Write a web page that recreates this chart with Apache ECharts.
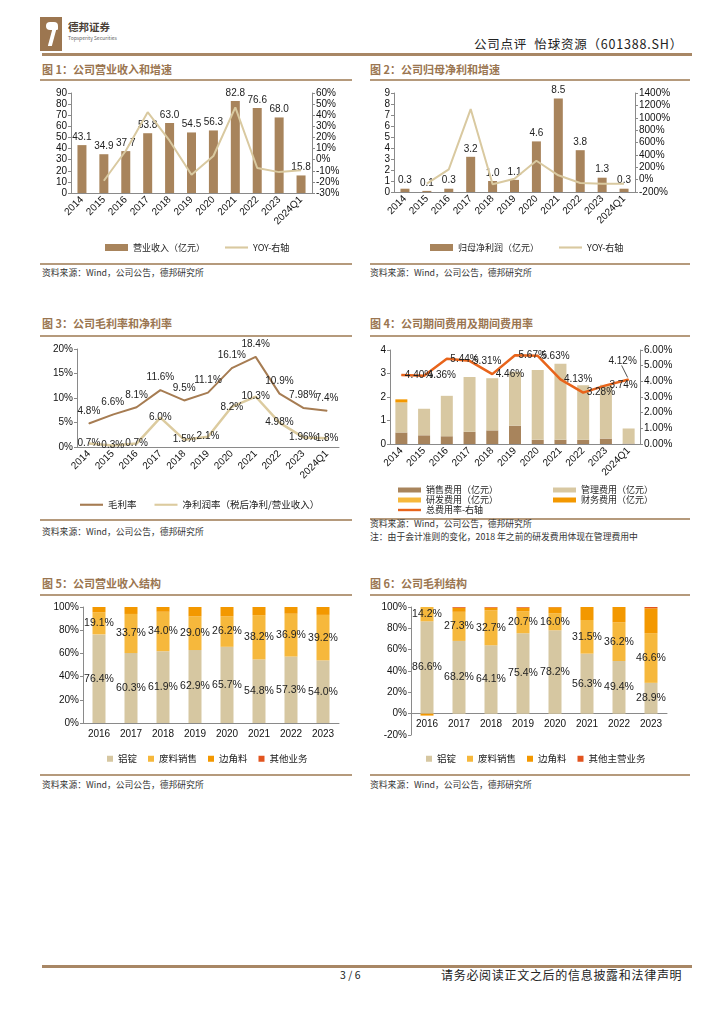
<!DOCTYPE html>
<html><head><meta charset="utf-8">
<script src="https://cdn.jsdelivr.net/npm/echarts@6/dist/echarts.min.js"></script>
<style>
body{margin:0;background:#fff;width:724px;height:1024px;position:relative;overflow:hidden;font-family:'Noto Sans CJK SC','Liberation Sans',sans-serif;color:#222;}
.t{position:absolute;white-space:nowrap;line-height:14px;}
.title{font-size:11px;font-weight:bold;color:#9a7550;}
.rule{position:absolute;height:1.5px;background:#b59a7c;}
.src{font-size:8.8px;color:#333;}
.chart{position:absolute;}
</style></head><body>
<!-- header -->
<div style="position:absolute;left:40px;top:17px;width:22px;height:34px;background:#9c7650;"></div>
<div style="position:absolute;left:46px;top:22px;width:12px;height:8px;background:#fff;border-radius:6px 6px 2px 6px;"></div>
<div style="position:absolute;left:50px;top:30px;width:4px;height:16px;background:#fff;transform:skewX(-15deg);"></div>
<div class="t" style="left:68px;top:20px;font-size:10.5px;font-weight:bold;color:#4a3f36;">德邦证券</div>
<div class="t" style="left:68px;top:31px;font-size:5px;color:#666;">Topsperity Securities</div>
<div class="t" style="right:41px;top:37px;font-size:12.5px;color:#222;letter-spacing:0.8px;">公司点评&nbsp;&nbsp;怡球资源（601388.SH）</div>
<div style="position:absolute;left:42px;top:53px;width:650px;height:2.5px;background:#a88765;"></div>

<!-- titles -->
<div class="t title" style="left:42px;top:62px;">图 1：公司营业收入和增速</div>
<div class="t title" style="left:370px;top:62px;">图 2：公司归母净利和增速</div>
<div class="rule" style="left:40px;top:79px;width:312px;"></div>
<div class="rule" style="left:370px;top:79px;width:320px;"></div>
<div class="rule" style="left:40px;top:263px;width:312px;"></div>
<div class="rule" style="left:370px;top:263px;width:320px;"></div>
<div class="t src" style="left:42px;top:266px;">资料来源：Wind，公司公告，德邦研究所</div>
<div class="t src" style="left:370px;top:266px;">资料来源：Wind，公司公告，德邦研究所</div>

<div class="t title" style="left:42px;top:316px;">图 3：公司毛利率和净利率</div>
<div class="t title" style="left:370px;top:316px;">图 4：公司期间费用及期间费用率</div>
<div class="rule" style="left:40px;top:335px;width:312px;"></div>
<div class="rule" style="left:370px;top:335px;width:320px;"></div>
<div class="rule" style="left:40px;top:519px;width:312px;"></div>
<div class="rule" style="left:370px;top:518px;width:320px;"></div>
<div class="t src" style="left:42px;top:525px;">资料来源：Wind，公司公告，德邦研究所</div>
<div class="t src" style="left:370px;top:517px;">资料来源：Wind，公司公告，德邦研究所</div>
<div class="t src" style="left:370px;top:530px;">注：由于会计准则的变化，2018 年之前的研发费用体现在管理费用中</div>

<div class="t title" style="left:42px;top:576px;">图 5：公司营业收入结构</div>
<div class="t title" style="left:370px;top:576px;">图 6：公司毛利结构</div>
<div class="rule" style="left:40px;top:594px;width:312px;"></div>
<div class="rule" style="left:370px;top:594px;width:320px;"></div>
<div class="rule" style="left:40px;top:774px;width:312px;"></div>
<div class="rule" style="left:370px;top:774px;width:320px;"></div>
<div class="t src" style="left:42px;top:778px;">资料来源：Wind，公司公告，德邦研究所</div>
<div class="t src" style="left:370px;top:778px;">资料来源：Wind，公司公告，德邦研究所</div>

<!-- footer -->
<div style="position:absolute;left:42px;top:965px;width:650px;height:2.5px;background:#a88765;"></div>
<div class="t" style="left:340px;top:968px;font-size:10.5px;">3 / 6</div>
<div class="t" style="left:441px;top:968px;font-size:12px;letter-spacing:0.7px;">请务必阅读正文之后的信息披露和法律声明</div>

<div id="c1" class="chart" style="left:40px;top:84px;width:318px;height:174px;"></div>
<div id="c2" class="chart" style="left:362px;top:84px;width:330px;height:174px;"></div>
<div id="c3" class="chart" style="left:40px;top:336px;width:318px;height:178px;"></div>
<div id="c4" class="chart" style="left:362px;top:336px;width:330px;height:200px;"></div>
<div id="c5" class="chart" style="left:40px;top:596px;width:318px;height:174px;"></div>
<div id="c6" class="chart" style="left:362px;top:596px;width:330px;height:174px;"></div>

<script>
// ---------- data ----------
const years11 = ['2014','2015','2016','2017','2018','2019','2020','2021','2022','2023','2024Q1'];
const years8 = ['2016','2017','2018','2019','2020','2021','2022','2023'];

const revenue = [43.1,34.9,37.7,53.8,63.0,54.5,56.3,82.8,76.6,68.0,15.8];
const revenueYoy = [null,-19.0,8.0,42.7,17.1,-13.5,3.3,47.1,-7.5,-11.2,-9.5];
const revLeftTicks = {min:0,max:90,interval:10};
const revRightTicks = {min:-30,max:60,interval:10};

const netProfit = [0.3,0.1,0.3,3.2,1.0,1.1,4.6,8.5,3.8,1.3,0.3];
const netProfitYoy = [null,-65,165,1140,-75,15,305,70,-55,-66,-65];
const npLeftTicks = {min:0,max:9,interval:1};
const npRightTicks = {min:-200,max:1400,interval:200};

const grossMargin = [4.8,6.6,8.1,11.6,9.5,11.1,16.1,18.4,10.9,7.98,7.4];
const netMargin = [0.7,0.3,0.7,6.0,1.5,2.1,8.2,10.3,4.98,1.96,1.8];
const marginTicks = {min:0,max:20,interval:5};

const sellingExp = [0.49,0.37,0.33,0.52,0.58,0.78,0.18,0.18,0.18,0.23,0.02];
const adminExp = [1.28,1.13,1.72,2.33,2.22,2.30,2.97,3.24,2.32,2.29,0.64];
const rdExp = [0,0,0,0,0,0,0,0,0,0,0];
const finExp = [0.13,0,0,0,0,0,0,0,0,0,0];
const expRate = [4.40,4.36,5.44,5.31,4.46,5.67,5.63,4.13,3.28,3.74,4.12];
const expLeftTicks = {min:0,max:4,interval:1};
const expRightTicks = {min:0,max:6,interval:1};

const revIngot = [76.4,60.3,61.9,62.9,65.7,54.8,57.3,54.0];
const revScrap = [19.1,33.7,34.0,29.0,26.2,38.2,36.9,39.2];
const revOffcut = [4.5,6.0,4.1,8.1,8.1,7.0,5.8,6.8];
const revOther = [0,0,0,0,0,0,0,0];

const gpIngot = [86.6,68.2,64.1,75.4,78.2,56.3,49.4,28.9];
const gpScrap = [14.2,27.3,32.7,20.7,16.0,31.5,36.2,46.6];
const gpOffcut = [-1.8,3.8,2.6,3.3,5.6,12.2,14.4,23.3];
const gpOther = [0.3,0.7,0.6,0.6,0.2,0,0,1.2];
const structTicks5 = {min:0,max:100,interval:20};
const structTicks6 = {min:-20,max:100,interval:20};

// ---------- styles ----------
const F = "'Liberation Sans', Arial, 'Noto Sans CJK SC', sans-serif";
const FC = "'Noto Sans CJK SC', 'Liberation Sans', sans-serif";
const C = {brown:'#a8845c', tan:'#d9c9a0', tan2:'#d6c7a1', yellow:'#f6b83c', orange:'#f39800', red:'#e2541f', rate:'#e8641b', gm:'#a67c52', nm:'#dccb9f'};
const aLine = {show:true, lineStyle:{color:'#8a8a8a', width:1}};
const aTick = {show:true, length:3, lineStyle:{color:'#8a8a8a'}};
const aLab = {color:'#111', fontSize:10, fontFamily:F};
const pct0 = v => v + '%';
const pctAuto = v => (Math.abs(Math.round(v*10) - v*10) < 1e-6 ? v.toFixed(1) : v.toFixed(2)) + '%';
const lineIcon = 'path://M0,0H24V2.2H0Z';

function yAx(t, fmt, extra){
  return Object.assign({type:'value', min:t.min, max:t.max, interval:t.interval,
    axisLine:aLine, axisTick:aTick, splitLine:{show:false},
    axisLabel:Object.assign({}, aLab, {formatter:fmt||undefined, margin:4})}, extra||{});
}
function xCat(data, rotate, extra){
  return Object.assign({type:'category', data:data, axisLine:aLine, axisTick:{show:false},
    axisLabel:Object.assign({}, aLab, {rotate:rotate, interval:0, margin:rotate?5:6})}, extra||{});
}
const legText = {color:'#222', fontSize:9, fontFamily:FC};
const hiddenSym = {symbol:'circle', symbolSize:1, showSymbol:true};

// ---------- chart 1 ----------
echarts.init(document.getElementById('c1')).setOption({
  animation:false,
  grid:{left:31, top:9, width:241, height:100},
  xAxis:xCat(years11,45),
  yAxis:[yAx(revLeftTicks), yAx(revRightTicks, pct0)],
  legend:{left:65, top:159, padding:0, itemWidth:23, itemHeight:7, itemGap:20, textStyle:legText,
    data:[{name:'营业收入（亿元）', icon:'rect'}, {name:'YOY-右轴', icon:lineIcon}]},
  series:[
    {name:'营业收入（亿元）', type:'bar', data:revenue, barWidth:9, itemStyle:{color:C.brown},
      label:{show:true, position:'top', distance:3, fontSize:10, fontFamily:F, color:'#222', formatter:p=>p.value.toFixed(1)}},
    {name:'YOY-右轴', type:'line', yAxisIndex:1, data:revenueYoy, symbol:'none', lineStyle:{color:C.tan, width:2}, itemStyle:{color:C.tan}}
  ]
});

// ---------- chart 2 ----------
echarts.init(document.getElementById('c2')).setOption({
  animation:false,
  grid:{left:32, top:9, width:241, height:99},
  xAxis:xCat(years11,45),
  yAxis:[yAx(npLeftTicks), yAx(npRightTicks, pct0)],
  legend:{left:68, top:159, padding:0, itemWidth:23, itemHeight:7, itemGap:20, textStyle:legText,
    data:[{name:'归母净利润（亿元）', icon:'rect'}, {name:'YOY-右轴', icon:lineIcon}]},
  series:[
    {name:'归母净利润（亿元）', type:'bar', data:netProfit, barWidth:9, itemStyle:{color:C.brown},
      label:{show:true, position:'top', distance:3, fontSize:10, fontFamily:F, color:'#222', formatter:p=>p.value.toFixed(1)}},
    {name:'YOY-右轴', type:'line', yAxisIndex:1, data:netProfitYoy, symbol:'none', lineStyle:{color:C.tan, width:2}, itemStyle:{color:C.tan}}
  ]
});

// ---------- chart 3 ----------
echarts.init(document.getElementById('c3')).setOption({
  animation:false,
  grid:{left:37, top:13, width:262, height:98},
  xAxis:xCat(years11,45),
  yAxis:yAx(marginTicks, pct0),
  legend:{left:40, top:164, padding:0, itemWidth:23, itemHeight:8, itemGap:18, textStyle:Object.assign({},legText,{fontSize:9.5}),
    data:[{name:'毛利率',icon:lineIcon},{name:'净利润率（税后净利/营业收入）',icon:lineIcon}]},
  series:[
    Object.assign({name:'毛利率', type:'line', data:grossMargin, lineStyle:{color:C.gm, width:2}, itemStyle:{color:C.gm},
      label:{show:true, position:'top', distance:7, fontSize:10, fontFamily:F, color:'#222', formatter:p=>pctAuto(p.value)}}, hiddenSym),
    Object.assign({name:'净利润率（税后净利/营业收入）', type:'line', data:netMargin, lineStyle:{color:C.nm, width:2.5}, itemStyle:{color:C.nm},
      label:{show:true, position:'inside', fontSize:10, fontFamily:F, color:'#222', formatter:p=>pctAuto(p.value)}}, hiddenSym)
  ]
});

// ---------- chart 4 ----------
const c4 = echarts.init(document.getElementById('c4'));
const rateData = expRate.map((v,i)=> i===10 ? {value:v, label:{position:'top'}} : v);
c4.setOption({
  animation:false,
  grid:{left:28, top:14, width:250, height:94},
  xAxis:xCat(years11,45),
  yAxis:[yAx(expLeftTicks), yAx(expRightTicks, v=>v.toFixed(2)+'%')],
  legend:[
    {left:36, top:149, padding:0, orient:'vertical', itemWidth:23, itemHeight:5, itemGap:0, textStyle:Object.assign({},legText,{lineHeight:10}),
      data:[{name:'销售费用（亿元）',icon:'rect'},{name:'研发费用（亿元）',icon:'rect'},{name:'总费用率-右轴',icon:'path://M0,0H24V2.5H0Z'}]},
    {left:191, top:149, padding:0, orient:'vertical', itemWidth:23, itemHeight:5, itemGap:0, textStyle:Object.assign({},legText,{lineHeight:10}),
      data:[{name:'管理费用（亿元）',icon:'rect'},{name:'财务费用（亿元）',icon:'rect'}]}
  ],
  series:[
    {name:'销售费用（亿元）', type:'bar', stack:'e', data:sellingExp, barWidth:12, itemStyle:{color:C.brown}},
    {name:'管理费用（亿元）', type:'bar', stack:'e', data:adminExp, itemStyle:{color:'#d8c8a2'}},
    {name:'研发费用（亿元）', type:'bar', stack:'e', data:rdExp, itemStyle:{color:C.yellow}},
    {name:'财务费用（亿元）', type:'bar', stack:'e', data:finExp, itemStyle:{color:C.orange}},
    Object.assign({name:'总费用率-右轴', type:'line', yAxisIndex:1, data:rateData, lineStyle:{color:C.rate, width:2.5}, itemStyle:{color:C.rate},
      label:{show:true, position:'right', distance:3, fontSize:10, fontFamily:F, color:'#222', formatter:p=>p.value.toFixed(2)+'%'},
      labelLayout:function(p){ if(p.dataIndex===10) return {dx:-6, dy:-10}; return {}; }}, hiddenSym)
  ]
});
// leader line from the moved 4.12% label to its point (point position from the chart's own scales)
const lastPt = c4.convertToPixel({xAxisIndex:0, yAxisIndex:1}, [expRate.length-1, expRate[expRate.length-1]]);
c4.setOption({graphic:[{type:'line', z:100, shape:{x1:lastPt[0]-7, y1:lastPt[1]-14, x2:lastPt[0]-1, y2:lastPt[1]-2}, style:{stroke:'#222', lineWidth:0.8}}]});

// ---------- chart 5 ----------
const inLab = {show:true, position:'inside', fontSize:10.5, fontFamily:F, color:'#222', formatter:p=>p.value.toFixed(1)+'%'};
echarts.init(document.getElementById('c5')).setOption({
  animation:false,
  grid:{left:43, top:11, width:256, height:116},
  xAxis:xCat(years8,0),
  yAxis:yAx(structTicks5, pct0),
  legend:{left:67, top:158, padding:0, itemWidth:6, itemHeight:6, itemGap:11, icon:'rect', textStyle:Object.assign({},legText,{fontSize:9.5}),
    data:['铝锭','废料销售','边角料','其他业务']},
  series:[
    {name:'铝锭', type:'bar', stack:'s', data:revIngot, barWidth:13, itemStyle:{color:C.tan2}, label:inLab},
    {name:'废料销售', type:'bar', stack:'s', data:revScrap, itemStyle:{color:C.yellow}, label:inLab},
    {name:'边角料', type:'bar', stack:'s', data:revOffcut, itemStyle:{color:C.orange}},
    {name:'其他业务', type:'bar', stack:'s', data:revOther, itemStyle:{color:C.red}}
  ]
});

// ---------- chart 6 ----------
echarts.init(document.getElementById('c6')).setOption({
  animation:false,
  grid:{left:49, top:11, width:256, height:128},
  xAxis:xCat(years8,0,{axisLine:{show:true, onZero:false, lineStyle:{color:'#8a8a8a', width:1}}, offset:-128*20/120}),
  yAxis:yAx(structTicks6, pct0),
  legend:{left:64, top:158, padding:0, itemWidth:6, itemHeight:6, itemGap:11, icon:'rect', textStyle:Object.assign({},legText,{fontSize:9.5}),
    data:['铝锭','废料销售','边角料','其他主营业务']},
  series:[
    {name:'铝锭', type:'bar', stack:'s', data:gpIngot, barWidth:13, itemStyle:{color:C.tan2}, label:inLab},
    {name:'废料销售', type:'bar', stack:'s', data:gpScrap, itemStyle:{color:C.yellow}, label:inLab},
    {name:'边角料', type:'bar', stack:'s', data:gpOffcut, itemStyle:{color:C.orange}},
    {name:'其他主营业务', type:'bar', stack:'s', data:gpOther, itemStyle:{color:C.red}}
  ]
});
</script>
</body></html>
